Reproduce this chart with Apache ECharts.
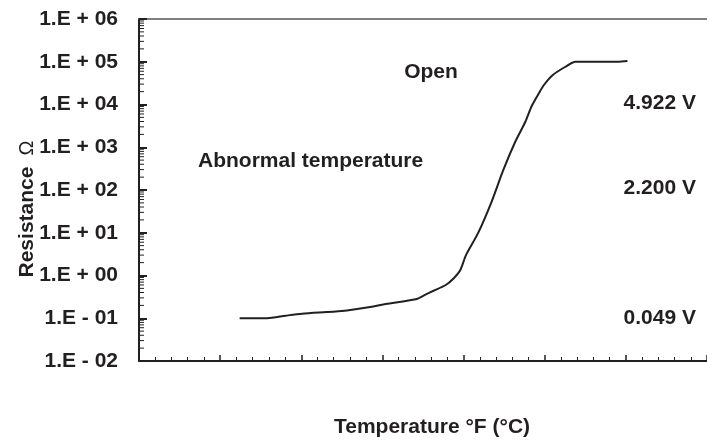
<!DOCTYPE html>
<html><head><meta charset="utf-8">
<script src="https://cdn.jsdelivr.net/npm/echarts@6/dist/echarts.min.js"></script>
<style>html,body{margin:0;padding:0;background:#fff}#c{width:707px;height:443px}</style>
</head><body><div id="c"></div>
<script>
// Temperature axis position (unlabelled major divisions) and resistance in ohms
const temperatureX = [1.24, 1.58, 1.81, 2.01, 2.50, 2.87, 3.04, 3.41, 3.53, 3.63, 3.78, 3.87, 3.96, 4.03, 4.18, 4.34, 4.49, 4.63, 4.76, 4.84, 4.93, 4.99, 5.10, 5.25, 5.38, 5.90, 6.02];
const resistanceOhm = [0.1, 0.1, 0.115, 0.128, 0.148, 0.186, 0.215, 0.277, 0.356, 0.44, 0.60, 0.83, 1.35, 3.0, 9.9, 50, 294, 1256, 3900, 9230, 18600, 28600, 49000, 75400, 100000, 100000, 104000];
const yTickExponents = [-2, -1, 0, 1, 2, 3, 4, 5, 6];
const yTickLabels = ['1.E - 02', '1.E - 01', '1.E + 00', '1.E + 01', '1.E + 02', '1.E + 03', '1.E + 04', '1.E + 05', '1.E + 06'];
const minorMultipliers = [2, 3, 4, 5, 6, 7, 8, 9];
const regionLabels = ['Open', 'Abnormal temperature'];
const voltageLabels = ['4.922 V', '2.200 V', '0.049 V'];
const yAxisTitle = 'Resistance';
const yAxisUnit = 'Ω';
const xAxisTitle = 'Temperature °F (°C)';

const INK = '#231f20';
const FONT = "'Liberation Sans', Arial, Helvetica, sans-serif";
const FS = 21;

const lineData = temperatureX.map((x, i) => [x, Math.log10(resistanceOhm[i])]);
const minorTickData = [];
for (let n = yTickExponents[0]; n < yTickExponents[yTickExponents.length - 1]; n++) {
  minorMultipliers.forEach(k => minorTickData.push([0, n + Math.log10(k)]));
}

function txt(text, x, y, align, extra) {
  return Object.assign({
    type: 'text', x: x, y: y, silent: true,
    style: {
      text: text, fill: INK, fontFamily: FONT, fontSize: FS, fontWeight: 'bold',
      align: align, textAlign: align, verticalAlign: 'middle', textVerticalAlign: 'middle'
    }
  }, extra || {});
}

const chart = echarts.init(document.getElementById('c'), null, {renderer: 'canvas'});
chart.setOption({
  animation: false,
  backgroundColor: '#ffffff',
  grid: {left: 139, top: 19, bottom: 82, right: -3, containLabel: false},
  xAxis: [{
    type: 'value', min: 0, max: 7, interval: 1, position: 'bottom',
    axisLine: {show: true, onZero: false, lineStyle: {color: INK, width: 2}},
    axisTick: {show: true, inside: true, length: 6, lineStyle: {color: INK, width: 1.5}},
    minorTick: {show: true, splitNumber: 5, length: 4, lineStyle: {color: INK, width: 1}},
    axisLabel: {show: false}, splitLine: {show: false}, minorSplitLine: {show: false}
  }, {
    type: 'value', min: 0, max: 7, interval: 1, position: 'top',
    axisLine: {show: true, onZero: false, lineStyle: {color: '#555555', width: 1.5}},
    axisTick: {show: false}, axisLabel: {show: false}, splitLine: {show: false}
  }],
  yAxis: {
    type: 'value', min: -2, max: 6, interval: 1,
    axisLine: {show: true, onZero: false, lineStyle: {color: INK, width: 2}},
    axisTick: {show: true, inside: true, length: 8, lineStyle: {color: INK, width: 2}},
    axisLabel: {
      margin: 21, color: INK, fontFamily: FONT, fontSize: FS, fontWeight: 'bold',
      padding: [0, 0, 8, 0],
      formatter: v => yTickLabels[yTickExponents.indexOf(Math.round(v))]
    },
    splitLine: {show: false}
  },
  series: [{
    type: 'line', data: lineData, xAxisIndex: 0, symbol: 'none', smooth: 0.25,
    lineStyle: {color: INK, width: 2}, silent: true, z: 3
  }, {
    type: 'custom', data: minorTickData, xAxisIndex: 0, clip: false, silent: true, z: 4,
    renderItem: (params, api) => {
      const p = api.coord([api.value(0), api.value(1)]);
      return {type: 'line', shape: {x1: p[0], y1: p[1], x2: p[0] + 5, y2: p[1]},
        style: {stroke: INK, lineWidth: 1}};
    }
  }],
  graphic: [
    {
      type: 'text', x: 27, y: 209, rotation: Math.PI / 2, silent: true,
      style: {
        text: '{a|' + yAxisTitle + '}{b|  ' + yAxisUnit + '}',
        fill: INK, fontFamily: FONT, fontSize: FS,
        align: 'center', textAlign: 'center', verticalAlign: 'middle', textVerticalAlign: 'middle',
        rich: {
          a: {fontFamily: FONT, fontSize: FS, fontWeight: 'bold', fill: INK, color: INK},
          b: {fontFamily: FONT, fontSize: 20, fontWeight: 'normal', fill: INK, color: INK}
        }
      }
    },
    txt(xAxisTitle, 432, 427, 'center'),
    txt(regionLabels[0], 431, 72, 'center'),
    txt(regionLabels[1], 198, 161, 'left'),
    txt(voltageLabels[0], 696, 103, 'right'),
    txt(voltageLabels[1], 696, 188, 'right'),
    txt(voltageLabels[2], 696, 318, 'right')
  ]
});
</script>
</body></html>
